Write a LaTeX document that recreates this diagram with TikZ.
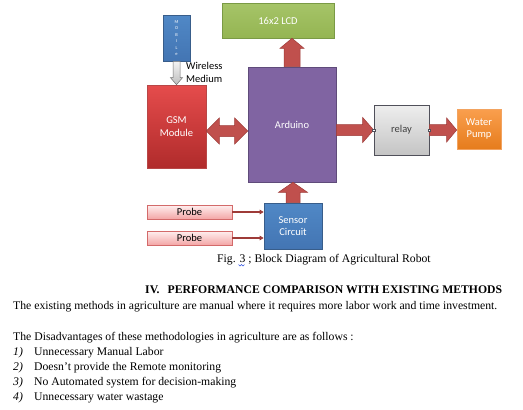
\documentclass[tikz,border=0pt]{standalone}
\usepackage{fontspec}
\setmainfont{Liberation Serif}
\newfontfamily\calfont{Carlito}
\usetikzlibrary{calc,arrows.meta}
\definecolor{arrred}{HTML}{C0504D}
\definecolor{arrbd}{HTML}{9E3B38}
\definecolor{lcdA}{HTML}{A6C468}
\definecolor{lcdB}{HTML}{94B552}
\definecolor{lcdbd}{HTML}{7A9A45}
\definecolor{blueA}{HTML}{5088C6}
\definecolor{blueB}{HTML}{4375B3}
\definecolor{bluebd}{HTML}{385D8A}
\definecolor{gsmA}{HTML}{E54C4C}
\definecolor{gsmB}{HTML}{B02B2B}
\definecolor{gsmbd}{HTML}{B84747}
\definecolor{purp}{HTML}{8064A2}
\definecolor{purpbd}{HTML}{5F4B7A}
\definecolor{relA}{HTML}{EEEEEE}
\definecolor{relB}{HTML}{C4C4C4}
\definecolor{relbd}{HTML}{50505A}
\definecolor{pumpA}{HTML}{FA9F4E}
\definecolor{pumpB}{HTML}{E67C1C}
\definecolor{pumpbd}{HTML}{F2A360}
\definecolor{probA}{HTML}{FFEFEF}
\definecolor{probB}{HTML}{F3A6A6}
\definecolor{probbd}{HTML}{D36A6A}
\definecolor{greyA}{HTML}{F4F4F4}
\definecolor{greyB}{HTML}{BDBDBD}
\definecolor{squig}{HTML}{3050E0}
\tikzset{
  box/.style={draw, line width=0.6pt, inner sep=1pt, align=center, font=\calfont\fontsize{10.5}{12.5}\selectfont, text=white},
  barrow/.style n args={3}{to path={let \p1=(\tikztostart), \p2=(\tikztotarget),
     \n1={atan2(\y2-\y1,\x2-\x1)}, \n2={veclen(\x2-\x1,\y2-\y1)} in
     [shift={(\p1)}, rotate=\n1] (0pt,-#1) -- ({\n2*1pt-#3},-#1) -- ({\n2*1pt-#3},-#2) -- ({\n2*1pt},0pt)
     -- ({\n2*1pt-#3},#2) -- ({\n2*1pt-#3},#1) -- (0pt,#1) -- cycle}},
  dbarrow/.style n args={3}{to path={let \p1=(\tikztostart), \p2=(\tikztotarget),
     \n1={atan2(\y2-\y1,\x2-\x1)}, \n2={veclen(\x2-\x1,\y2-\y1)} in
     [shift={(\p1)}, rotate=\n1] (0pt,0pt) -- (#3,-#2) -- (#3,-#1) -- ({\n2*1pt-#3},-#1) -- ({\n2*1pt-#3},-#2) -- ({\n2*1pt},0pt)
     -- ({\n2*1pt-#3},#2) -- ({\n2*1pt-#3},#1) -- (#3,#1) -- (#3,#2) -- cycle}},
  redarrow/.style={fill=arrred, draw=arrbd, line width=0.5pt, line join=miter},
  body/.style={font=\fontsize{11.7}{13}\selectfont, anchor=base west, inner sep=0pt},
}
\begin{document}
\begin{tikzpicture}[x=1pt,y=-1pt]
\useasboundingbox (0,0) rectangle (523,410);
% boxes
\node[box, minimum width=112pt, minimum height=35pt, draw=lcdbd, top color=lcdA, bottom color=lcdB] (lcd) at (278,20.5) {16x2 LCD};
\node[box, minimum width=27pt, minimum height=46pt, draw=bluebd, top color=blueA, bottom color=blueB, font=\calfont\fontsize{4.5}{6.5}\selectfont] (mob) at (176.5,38) {M\\O\\B\\I\\L\\e};
\node[box, minimum width=59pt, minimum height=83pt, draw=gsmbd, top color=gsmA, bottom color=gsmB] (gsm) at (176.5,126.5) {GSM\\Module};
\node[box, minimum width=88pt, minimum height=115pt, draw=purpbd, fill=purp] (ard) at (292,124.5) {Arduino};
\node[box, minimum width=55pt, minimum height=50pt, draw=relbd, top color=relA, bottom color=relB, text=black!75] (relay) at (401.5,130) {relay};
\node[box, minimum width=44pt, minimum height=40pt, draw=pumpbd, top color=pumpA, bottom color=pumpB] (pump) at (479,129) {Water\\Pump};
\node[box, minimum width=58pt, minimum height=46pt, draw=bluebd, top color=blueA, bottom color=blueB] (sensor) at (293,226) {Sensor\\Circuit};
\node[box, minimum width=85pt, minimum height=14pt, draw=probbd, top color=probA, bottom color=probB, text=black] (probe1) at (189.5,212) {Probe};
\node[box, minimum width=85pt, minimum height=14pt, draw=probbd, top color=probA, bottom color=probB, text=black] (probe2) at (189.5,238) {Probe};
\node[font=\calfont\fontsize{10.5}{13}\selectfont, align=left, anchor=north west, inner sep=0pt] (wl) at (186,62) {Wireless\\Medium};
% block arrows
\path[barrow={3.5pt}{6pt}{7pt}, top color=greyA, bottom color=greyB, draw=black!55, line width=0.5pt] (mob.south) to (gsm.north);
\path[barrow={8pt}{12pt}{10pt}, redarrow] (ard.north) to (ard.north |- lcd.south);
\path[barrow={7pt}{14.5pt}{10pt}, redarrow] (sensor.north) to (sensor.north |- ard.south);
\coordinate (g1) at ([yshift=-4.5pt]gsm.east);
\path[dbarrow={5.5pt}{13pt}{13pt}, redarrow] (g1) to (g1 -| ard.west);
\path[barrow={5.5pt}{12.5pt}{11pt}, redarrow] (relay.west -| ard.east) to (relay.west);
\path[barrow={5.5pt}{12pt}{10pt}, redarrow] (relay.east) to (relay.east -| pump.west);
% relay handles
\node[draw=relbd, fill=white, minimum size=2.5pt, inner sep=0pt, line width=0.4pt] (h1) at (relay.west) {};
\node[draw=relbd, fill=white, minimum size=2.5pt, inner sep=0pt, line width=0.4pt] (h2) at (relay.east) {};
% probe arrows
\draw[arrbd, line width=1.3pt, -{Triangle[length=4pt,width=4.5pt]}] (probe1.east) -- (probe1.east -| sensor.west);
\draw[arrbd, line width=1.3pt, -{Triangle[length=4pt,width=4.5pt]}] (probe2.east) -- (probe2.east -| sensor.west);
% text
\node[body] (cap) at (217,262.5) {Fig. 3 ; Block Diagram of Agricultural Robot};
\draw[squig, line width=0.4pt] (238.5,264.5) -- (240,266) -- (241.5,264.5) -- (243,266) -- (244.5,264.5);
\node[body, font=\bfseries\fontsize{11.7}{13}\selectfont] (head) at (145,293) {IV.\hspace{8pt}PERFORMANCE COMPARISON WITH EXISTING METHODS};
\node[body] (p1) at (13,309) {The existing methods in agriculture are manual where it requires more labor work and time investment.};
\node[body] (p2) at (13,340) {The Disadvantages of these methodologies in agriculture are as follows :};
\node[body] (n1) at (13,355) {\itshape 1)};
\node[body] (t1) at (34,355) {Unnecessary Manual Labor};
\node[body] (n2) at (13,370) {\itshape 2)};
\node[body] (t2) at (34,370) {Doesn’t provide the Remote monitoring};
\node[body] (n3) at (13,385) {\itshape 3)};
\node[body] (t3) at (34,385) {No Automated system for decision-making};
\node[body] (n4) at (13,400) {\itshape 4)};
\node[body] (t4) at (34,400) {Unnecessary water wastage};
\end{tikzpicture}
\end{document}
